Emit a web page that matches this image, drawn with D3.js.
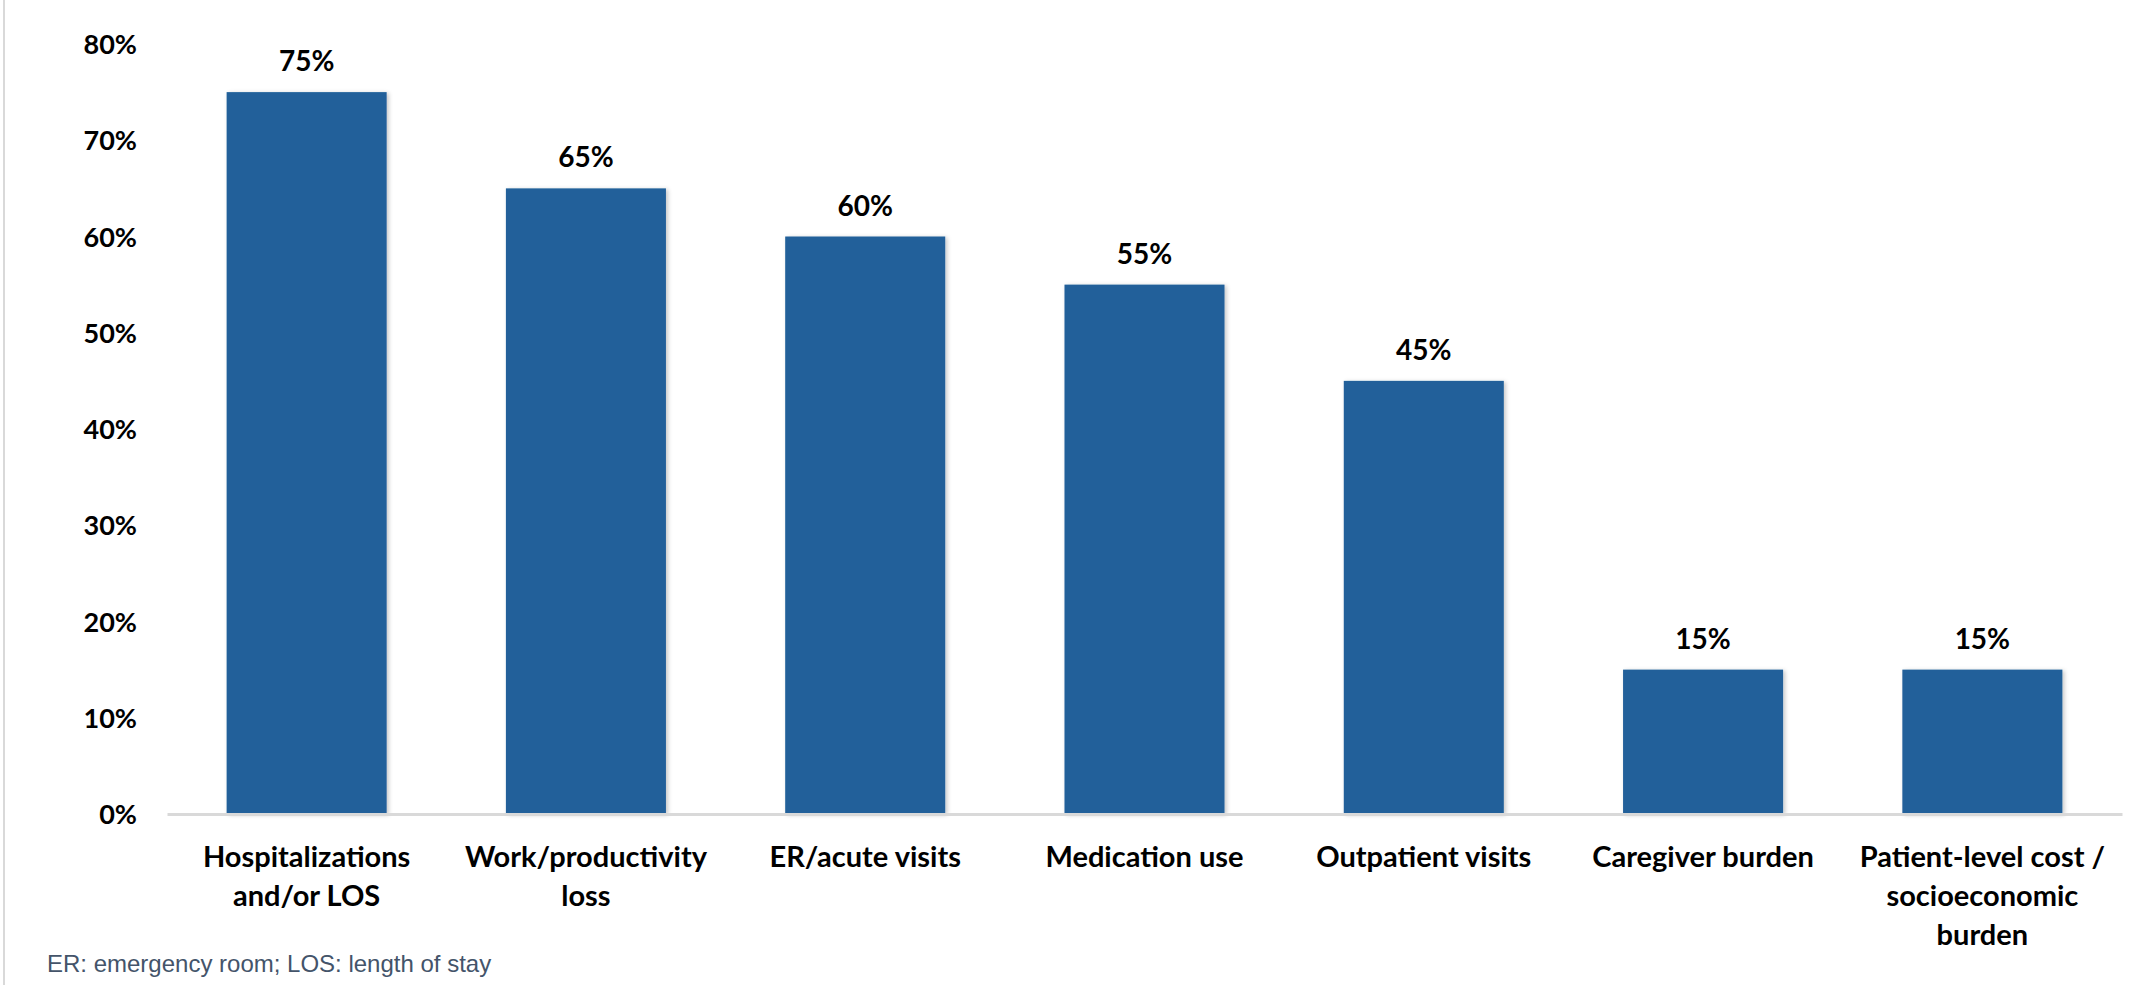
<!DOCTYPE html>
<html>
<head>
<meta charset="utf-8">
<script src="https://cdn.jsdelivr.net/npm/d3@7"></script>
<style>
  html, body { margin: 0; padding: 0; background: #fff; }
  svg { display: block; }
</style>
</head>
<body>
<svg id="chart" width="2144" height="985"></svg>
<script>
const categories = [
  "Hospitalizations\nand/or LOS",
  "Work/productivity\nloss",
  "ER/acute visits",
  "Medication use",
  "Outpatient visits",
  "Caregiver burden",
  "Patient-level cost /\nsocioeconomic\nburden"
];
const values = [0.75, 0.65, 0.60, 0.55, 0.45, 0.15, 0.15];
const yTicks = [0, 0.1, 0.2, 0.3, 0.4, 0.5, 0.6, 0.7, 0.8];
const footnote = "ER: emergency room; LOS: length of stay";

const svg = d3.select("#chart");
const W = 2144, H = 985;
const margin = { left: 167, right: 22, top: 44, bottom: 171 };
const x0 = margin.left, x1 = W - margin.right;
const yBase = H - margin.bottom, yTop = margin.top;

const x = d3.scaleBand().domain(categories).range([x0, x1]).paddingInner(0.427).paddingOuter(0.2135);
const y = d3.scaleLinear().domain([0, 0.8]).range([yBase, yTop]);

const defs = svg.append("defs");
const f = defs.append("filter").attr("id", "shadow").attr("x", "-10%").attr("y", "-10%").attr("width", "125%").attr("height", "125%");
f.append("feDropShadow").attr("dx", 2).attr("dy", 1).attr("stdDeviation", 2).attr("flood-color", "#000").attr("flood-opacity", 0.22);

// left border
svg.append("line").attr("x1", 4).attr("x2", 4).attr("y1", 0).attr("y2", H)
  .attr("stroke", "#D9D9D9").attr("stroke-width", 2);

const fontBold = "Lato, 'Open Sans', sans-serif";

// bars
svg.append("g").selectAll("rect").data(values).join("rect")
  .attr("x", (d, i) => x(categories[i]))
  .attr("width", x.bandwidth())
  .attr("y", d => y(d))
  .attr("height", d => y(0) - y(d))
  .attr("fill", "#22609A")
  .attr("filter", "url(#shadow)");

// x axis line
const xAxis = d3.axisBottom(x).tickSize(0).tickFormat("");
const gx = svg.append("g").attr("transform", `translate(0,${yBase})`).call(xAxis);
gx.select(".domain").attr("stroke", "#D9D9D9").attr("stroke-width", 3);

// y axis labels
const yAxis = d3.axisLeft(y).tickValues(yTicks).tickSize(0).tickPadding(30).tickFormat(d3.format(".0%"));
const gy = svg.append("g").attr("transform", `translate(${x0},0)`).call(yAxis);
gy.select(".domain").remove();
gy.selectAll("text")
  .attr("font-family", fontBold).attr("font-weight", 700).attr("font-size", 27)
  .attr("fill", "#000").attr("dy", "0.36em");

// value labels
svg.append("g").selectAll("text").data(values).join("text")
  .attr("x", (d, i) => x(categories[i]) + x.bandwidth() / 2)
  .attr("y", d => y(d) - 21)
  .attr("text-anchor", "middle")
  .attr("font-family", fontBold).attr("font-weight", 700).attr("font-size", 28)
  .attr("fill", "#000")
  .text(d => d3.format(".0%")(d));

// category labels
const cg = svg.append("g");
categories.forEach(c => {
  const t = cg.append("text")
    .attr("x", x(c) + x.bandwidth() / 2)
    .attr("y", yBase + 53)
    .attr("text-anchor", "middle")
    .attr("font-family", fontBold).attr("font-weight", 700).attr("font-size", 29)
    .attr("fill", "#000");
  c.split("\n").forEach((line, k) => {
    t.append("tspan").attr("x", x(c) + x.bandwidth() / 2).attr("dy", k === 0 ? 0 : 39).text(line);
  });
});

// footnote
svg.append("text").attr("x", 47).attr("y", 972)
  .attr("font-family", "'Liberation Sans', Arial, sans-serif").attr("font-size", 24)
  .attr("fill", "#44546A").text(footnote);
</script>
</body>
</html>
